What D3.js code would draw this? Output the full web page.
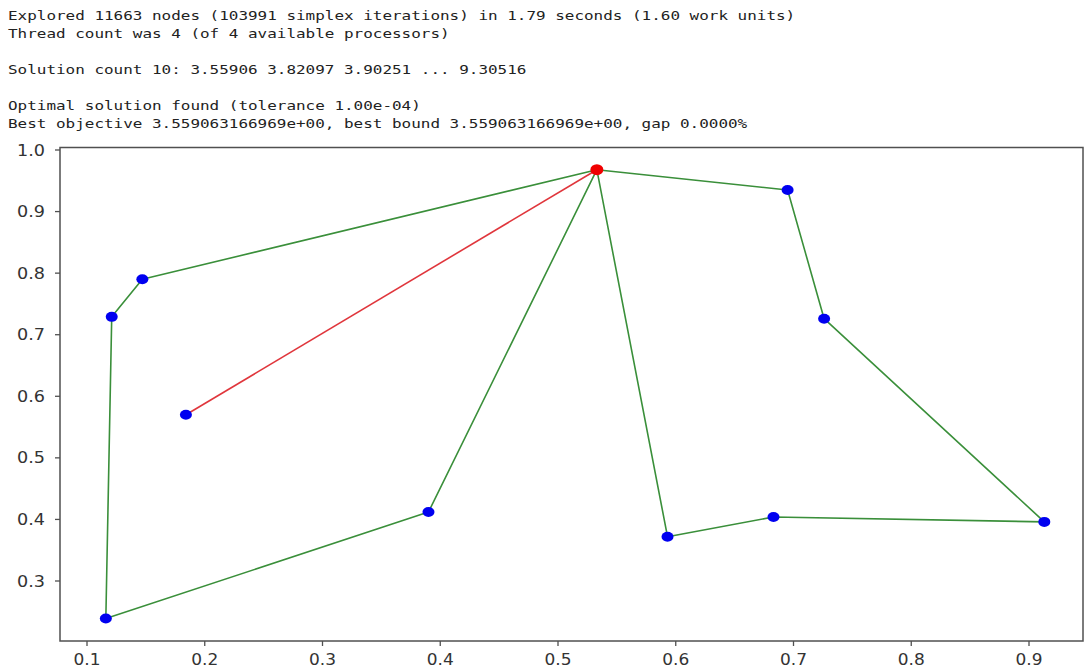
<!DOCTYPE html>
<html>
<head>
<meta charset="utf-8">
<script src="https://cdn.jsdelivr.net/npm/d3@7/dist/d3.min.js"></script>
<style>
  html, body { margin: 0; padding: 0; background: #fff; }
  svg { display: block; }
</style>
</head>
<body>
<svg id="chart" width="1085" height="669"></svg>
<script>
// ---- data ----
const logLines = [
  "Explored 11663 nodes (103991 simplex iterations) in 1.79 seconds (1.60 work units)",
  "Thread count was 4 (of 4 available processors)",
  "",
  "Solution count 10: 3.55906 3.82097 3.90251 ... 9.30516",
  "",
  "Optimal solution found (tolerance 1.00e-04)",
  "Best objective 3.559063166969e+00, best bound 3.559063166969e+00, gap 0.0000%"
];
const depot = [0.533, 0.968];
const customersX = [0.116, 0.121, 0.147, 0.184, 0.390, 0.593, 0.683, 0.695, 0.726, 0.913];
const customersY = [0.239, 0.729, 0.790, 0.570, 0.412, 0.372, 0.404, 0.935, 0.726, 0.396];
// routes as sequences of node indices (-1 = depot)
const greenRoutes = [
  [-1, 7, 8, 9, 6, 5, -1],
  [-1, 4, 0, 1, 2, -1]
];
const redRoutes = [
  [-1, 3]
];
const xTicks = [0.1, 0.2, 0.3, 0.4, 0.5, 0.6, 0.7, 0.8, 0.9];
const yTicks = [0.3, 0.4, 0.5, 0.6, 0.7, 0.8, 0.9, 1.0];

// ---- drawing ----
(function () {
const svg = d3.select("#chart");
const pLeft = 60, pRight = 1083, pTop = 147.5, pBottom = 641;
const x = d3.scaleLinear().domain([0.1, 0.9]).range([87, 1029]);
const y = d3.scaleLinear().domain([0.3, 1.0]).range([581, 150]);

// header log text
const charW = 9.6;
svg.append("g").selectAll("text")
  .data(logLines.map((t, i) => ({t, i})).filter(d => d.t.length))
  .join("text")
  .attr("x", 8)
  .attr("y", d => 19.5 + d.i * 18)
  .attr("font-family", "DejaVu Sans Mono, monospace")
  .attr("font-size", 13)
  .attr("fill", "#222")
  .attr("textLength", d => d.t.length * charW)
  .attr("lengthAdjust", "spacingAndGlyphs")
  .style("white-space", "pre")
  .text(d => d.t);

const pt = i => i < 0 ? depot : [customersX[i], customersY[i]];
const line = d3.line().x(d => x(d[0])).y(d => y(d[1]));

const plot = svg.append("g");
plot.append("defs").append("clipPath").attr("id", "clip")
  .append("rect").attr("x", pLeft).attr("y", pTop).attr("width", pRight - pLeft).attr("height", pBottom - pTop);
const inner = plot.append("g").attr("clip-path", "url(#clip)");

inner.selectAll("path.green").data(greenRoutes).join("path")
  .attr("class", "green")
  .attr("d", r => line(r.map(pt)))
  .attr("fill", "none").attr("stroke", "#3a8f3a").attr("stroke-width", 1.6)
  .attr("stroke-linejoin", "round");
inner.selectAll("path.red").data(redRoutes).join("path")
  .attr("class", "red")
  .attr("d", r => line(r.map(pt)))
  .attr("fill", "none").attr("stroke", "#e0363c").attr("stroke-width", 1.6);

inner.selectAll("ellipse.cust").data(customersX.map((v, i) => [v, customersY[i]])).join("ellipse")
  .attr("class", "cust")
  .attr("cx", d => x(d[0])).attr("cy", d => y(d[1]))
  .attr("rx", 6).attr("ry", 5).attr("fill", "#0000f0");
inner.append("ellipse")
  .attr("cx", x(depot[0])).attr("cy", y(depot[1]))
  .attr("rx", 6.5).attr("ry", 5.5).attr("fill", "#f00000");

// frame
const frameColor = "#505050";
plot.append("rect").attr("x", pLeft).attr("y", pTop).attr("width", pRight - pLeft).attr("height", pBottom - pTop)
  .attr("fill", "none").attr("stroke", frameColor).attr("stroke-width", 1.5);

// x axis
const xg = svg.append("g");
xg.selectAll("line").data(xTicks).join("line")
  .attr("x1", d => x(d)).attr("x2", d => x(d))
  .attr("y1", pBottom).attr("y2", pBottom + 5)
  .attr("stroke", frameColor).attr("stroke-width", 1.3);
xg.selectAll("text").data(xTicks).join("text")
  .attr("x", d => x(d) - 13.5).attr("y", 665)
  .attr("font-family", "DejaVu Sans, sans-serif").attr("font-size", 15)
  .attr("fill", "#333")
  .attr("textLength", 27).attr("lengthAdjust", "spacingAndGlyphs")
  .text(d => d3.format(".1f")(d));

// y axis
const yg = svg.append("g");
yg.selectAll("line").data(yTicks).join("line")
  .attr("x1", pLeft - 5).attr("x2", pLeft)
  .attr("y1", d => y(d)).attr("y2", d => y(d))
  .attr("stroke", frameColor).attr("stroke-width", 1.3);
yg.selectAll("text").data(yTicks).join("text")
  .attr("x", 17).attr("y", d => y(d) + 5.5)
  .attr("font-family", "DejaVu Sans, sans-serif").attr("font-size", 15)
  .attr("fill", "#333")
  .attr("textLength", 28).attr("lengthAdjust", "spacingAndGlyphs")
  .text(d => d3.format(".1f")(d));
})();
</script>
</body>
</html>
